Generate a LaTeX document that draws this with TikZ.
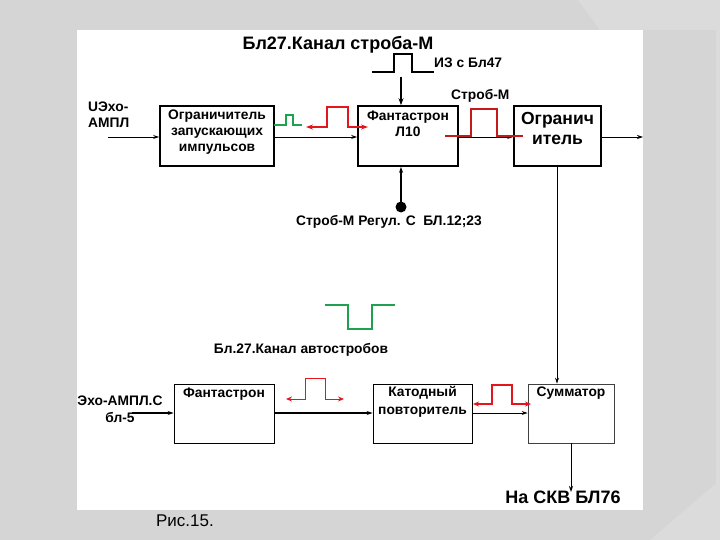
\documentclass[tikz,border=0pt]{standalone}
\usepackage{fontspec}
\setmainfont{Liberation Sans}
\usetikzlibrary{arrows.meta}
\definecolor{bg}{HTML}{D5D5D5}
\definecolor{bglight}{HTML}{DBDBDB}
\definecolor{pred}{HTML}{E3161C}
\definecolor{dred}{HTML}{C41A1A}
\definecolor{pgreen}{HTML}{1FA24F}
\tikzset{
  thickbox/.style={draw, line width=1.6pt, inner sep=0pt},
  thinbox/.style={draw, line width=0.8pt, inner sep=0pt},
  arr/.style={-{Stealth[length=6pt,width=4pt]}, line width=0.8pt},
  txt/.style={inner sep=0pt, font=\fontsize{13.8}{16}\selectfont\bfseries},
  pulse/.style={line width=1.5pt, line join=miter},
}
\begin{document}
\begin{tikzpicture}[x=1pt,y=-1pt]
% background
\fill[bg] (0,0) rectangle (720,540);
\fill[bglight] (578,0) -- (600,30) -- (720,30) -- (720,0) -- cycle;
\fill[bglight] (716,0) rectangle (720,540);
\fill[bglight] (650,540) -- (720,480) -- (720,540) -- cycle;
\fill[white] (77,30) rectangle (643,510);
\useasboundingbox (0,0) rectangle (720,540);

% title
\node[txt, font=\fontsize{18}{20}\selectfont\bfseries] (title) at (338,45) {Бл27.Канал строба-М};

% top boxes
\node[thickbox, minimum width=114pt, minimum height=60pt] (b1) at (217,136) {};
\node[thickbox, minimum width=100pt, minimum height=60pt] (b2) at (408,136) {};
\node[thickbox, minimum width=87pt, minimum height=60pt] (b3) at (557.5,136) {};
\node[txt, align=center] (t1) at (217,132) {Ограничитель\\запускающих\\импульсов};
\node[txt, align=center] (t2) at (408,124) {Фантастрон\\Л10};
\node[txt, align=center, font=\fontsize{17.5}{20}\selectfont\bfseries] (t3) at (557.5,128) {Огранич\\итель};

% input label
\node[txt, align=left, anchor=west] (lin1) at (88,115) {UЭхо-\\АМПЛ};
\coordinate (in1) at (108,137);
\coordinate (out1) at (643,137);
\draw[arr] (in1) -- (in1 -| b1.west);
\draw[arr] (b1.east |- in1) -- (b2.west |- in1);
\draw[arr] (b2.east |- in1) -- (b3.west |- in1);
\draw[arr] (b3.east |- in1) -- (out1);

% top pulse from Bl47
\draw[pulse] (372,72) -- (394,72) -- (394,54) -- (412,54) -- (412,72) -- (434,72);
\node[txt, anchor=west] (l47) at (434,63) {ИЗ с Бл47};
\coordinate (p47) at (401,77);
\draw[-{Stealth[length=7pt,width=5pt]}, line width=1.5pt] (p47) -- (p47 |- b2.north);

% green pulse
\draw[pgreen, pulse] (274,125) -- (286,125) -- (286,115) -- (293,115) -- (293,125) -- (302,125);
% red pulse (double arrow)
\draw[pred, line width=1.8pt, {Stealth[length=7pt,width=5pt]}-{Stealth[length=7pt,width=5pt]}] (306,127) -- (327,127) -- (327,107) -- (348,107) -- (348,127) -- (368,127);
% strob pulse
\draw[dred, line width=1.8pt] (445,136) -- (471,136) -- (471,109) -- (497,109) -- (497,136) -- (523,136);
\node[txt, anchor=west] (lstrob) at (451,96) {Строб-М};

% regulation input
\coordinate (dot) at (401,207);
\fill (dot) circle (5.5pt);
\draw[arr, line width=1.2pt] (dot) -- (dot |- b2.south);
\node[txt] (lreg) at (389,222) {Строб-М Регул. С\ \ БЛ.12;23};

% middle green pulse and label
\draw[pgreen, pulse] (325,305) -- (348,305) -- (348,329) -- (372,329) -- (372,305) -- (395,305);
\node[txt] (lauto) at (301,350) {Бл.27.Канал автостробов};

% bottom boxes
\node[thinbox, minimum width=100pt, minimum height=59pt] (f) at (224,413.5) {};
\node[thinbox, minimum width=99pt, minimum height=59pt] (k) at (422.5,413.5) {};
\node[thinbox, draw=black!75, minimum width=86pt, minimum height=59pt] (s) at (571,413.5) {};
\node[txt] (tf) at (224,394) {Фантастрон};
\node[txt, align=center, font=\fontsize{13.8}{18}\selectfont\bfseries] (tk) at (422.5,402) {Катодный\\повторитель};
\node[txt] (ts) at (571,393) {Сумматор};

\node[txt, align=center, font=\fontsize{13.8}{17}\selectfont\bfseries] (lin2) at (120,409) {Эхо-АМПЛ.С\\бл-5};
\coordinate (in2) at (132,413);
\draw[arr, line width=1.6pt] (in2) -- (in2 -| f.west);
\draw[arr, line width=1.8pt] (f.east |- in2) -- (k.west |- in2);
\draw[arr] (k.east |- in2) -- (s.west |- in2);

% bottom red pulses
\draw[pred, line width=1pt, {Stealth[length=6pt,width=5pt]}-{Stealth[length=6pt,width=5pt]}] (286,399) -- (305,399) -- (305,378) -- (325,378) -- (325,399) -- (344,399);
\draw[pred, line width=1.3pt, {Stealth[length=6pt,width=5pt]}-{Stealth[length=6pt,width=5pt]}] (473,404) -- (492,404) -- (492,385) -- (512,385) -- (512,404) -- (531,404);

% vertical links
\draw[arr] (b3.south -| 557,0) -- (s.north -| 557,0);
\coordinate (outs) at (571,492);
\draw[arr] (s.south) -- (outs);
\node[txt, font=\fontsize{18}{20}\selectfont\bfseries] (lskv) at (563,497) {На СКВ БЛ76};

% caption
\node[inner sep=0pt, font=\fontsize{17}{19}\selectfont] (cap) at (185,521) {Рис.15.};
\end{tikzpicture}
\end{document}
